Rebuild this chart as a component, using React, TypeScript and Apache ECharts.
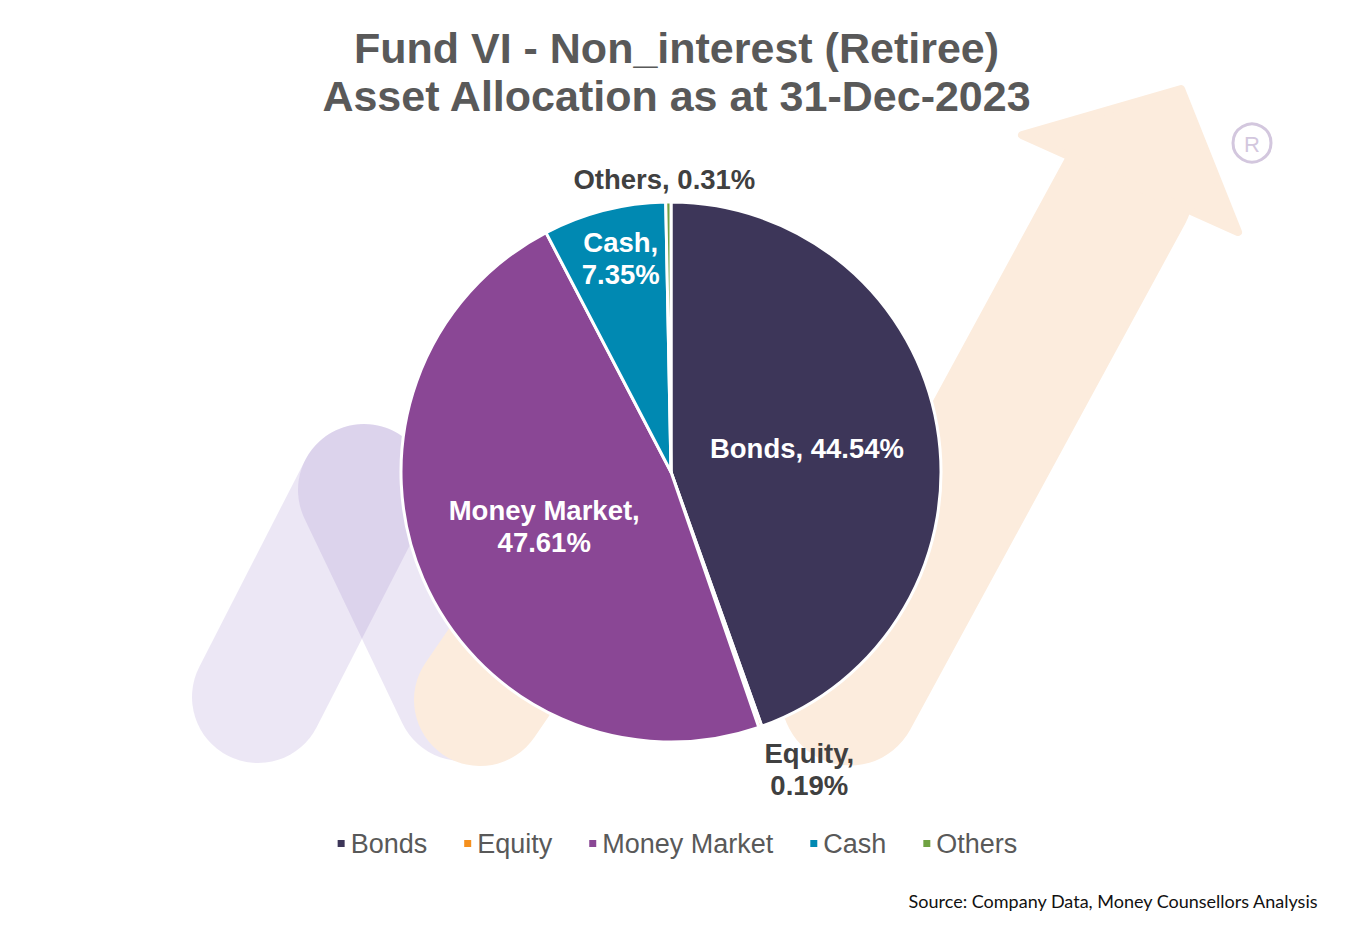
import React, { useEffect, useRef } from "react";
import * as echarts from "echarts";

const categories = ["Bonds", "Equity", "Money Market", "Cash", "Others"];
const values = [44.54, 0.19, 47.61, 7.35, 0.31];
const colors = ["#3d3659", "#f5901e", "#8a4795", "#0089b2", "#6fa242"];
const wrapLabel = [false, true, true, true, false];
const outsideLabel = [false, true, false, false, true];

const titleText = "Fund VI - Non_interest (Retiree)\nAsset Allocation as at 31-Dec-2023";
const sourceText = "Source: Company Data, Money Counsellors Analysis";

const FONT = "'Liberation Sans', Arial, Helvetica, sans-serif";

export default function App() {
  const ref = useRef<HTMLDivElement>(null);
  useEffect(() => {
    document.body.style.margin = "0";
    if (!ref.current) return;
    const chart = echarts.init(ref.current, null, { renderer: "svg" });
    const purple = "rgba(150,120,200,0.18)";
    const orange = "#fcecdd";
    const band = (pts: number[][], color: string, w = 132) => ({
      type: "polyline",
      z: 0,
      silent: true,
      shape: { points: pts },
      style: { stroke: color, lineWidth: w, lineCap: "round", lineJoin: "round", fill: null },
    });
    const option: any = {
      animation: false,
      backgroundColor: "#ffffff",
      title: {
        text: titleText,
        left: "center",
        top: 19,
        textStyle: {
          fontFamily: FONT,
          fontSize: 43,
          fontWeight: "bold",
          color: "#595959",
          lineHeight: 48,
        },
      },
      legend: {
        data: categories,
        left: "center",
        top: 825,
        icon: "rect",
        itemWidth: 9,
        itemHeight: 9,
        itemGap: 35,
        textStyle: {
          fontFamily: FONT,
          fontSize: 27,
          color: "#595959",
        },
      },
      graphic: [
        band([[258, 697], [364, 490]], purple),
        band([[364, 490], [462, 695]], purple),
        band([[480, 700], [665, 430]], orange),
        band([[665, 430], [850, 697]], orange),
        band([[850, 697], [1125, 191]], orange, 137),
        {
          type: "polygon",
          z: 0,
          silent: true,
          shape: { points: [[1022, 135], [1181, 89], [1238, 232]] },
          style: { fill: orange, stroke: orange, lineWidth: 8, lineJoin: "round" },
        },
        {
          type: "circle",
          z: 0,
          silent: true,
          shape: { cx: 1252, cy: 143, r: 19 },
          style: { fill: null, stroke: "#d3c7de", lineWidth: 3 },
        },
        {
          type: "text",
          z: 0,
          silent: true,
          x: 1252,
          y: 144,
          style: {
            text: "R",
            fill: "#d3c7de",
            font: "22px 'Liberation Sans', Arial, sans-serif",
            align: "center",
            verticalAlign: "middle",
          },
        },
        {
          type: "text",
          right: 34,
          top: 892,
          style: {
            text: sourceText,
            fill: "#111111",
            font: "18px Lato, sans-serif",
          },
        },
      ],
      series: [
        {
          type: "pie",
          center: [671, 472],
          radius: 270,
          startAngle: 90,
          clockwise: true,
          avoidLabelOverlap: false,
          itemStyle: { borderColor: "#ffffff", borderWidth: 3 },
          label: {
            show: true,
            position: "inside",
            color: "#ffffff",
            fontFamily: FONT,
            fontSize: 27.5,
            fontWeight: "bold",
            lineHeight: 32,
            formatter: (p: any) =>
              `${p.name},${wrapLabel[p.dataIndex] ? "\n" : " "}${p.value.toFixed(2)}%`,
          },
          labelLine: { show: false },
          labelLayout: (p: any) => {
            const r = p.rect;
            if (p.dataIndex === 4) {
              return { x: r.x + r.width / 2 - 4, y: r.y - 21, align: "center", verticalAlign: "middle" };
            }
            if (p.dataIndex === 1) {
              return { x: r.x + r.width + 46, y: r.y + r.height + 41, align: "center", verticalAlign: "middle" };
            }
            if (p.dataIndex === 3) {
              return { dx: -16, dy: -80 };
            }
            return {};
          },
          data: categories.map((name, i) => ({
            name,
            value: values[i],
            itemStyle: { color: colors[i] },
            label: outsideLabel[i] ? { color: "#404040" } : undefined,
          })),
        },
      ],
    };
    chart.setOption(option);
    return () => chart.dispose();
  }, []);
  return <div ref={ref} style={{ width: 1353, height: 929 }} />;
}
